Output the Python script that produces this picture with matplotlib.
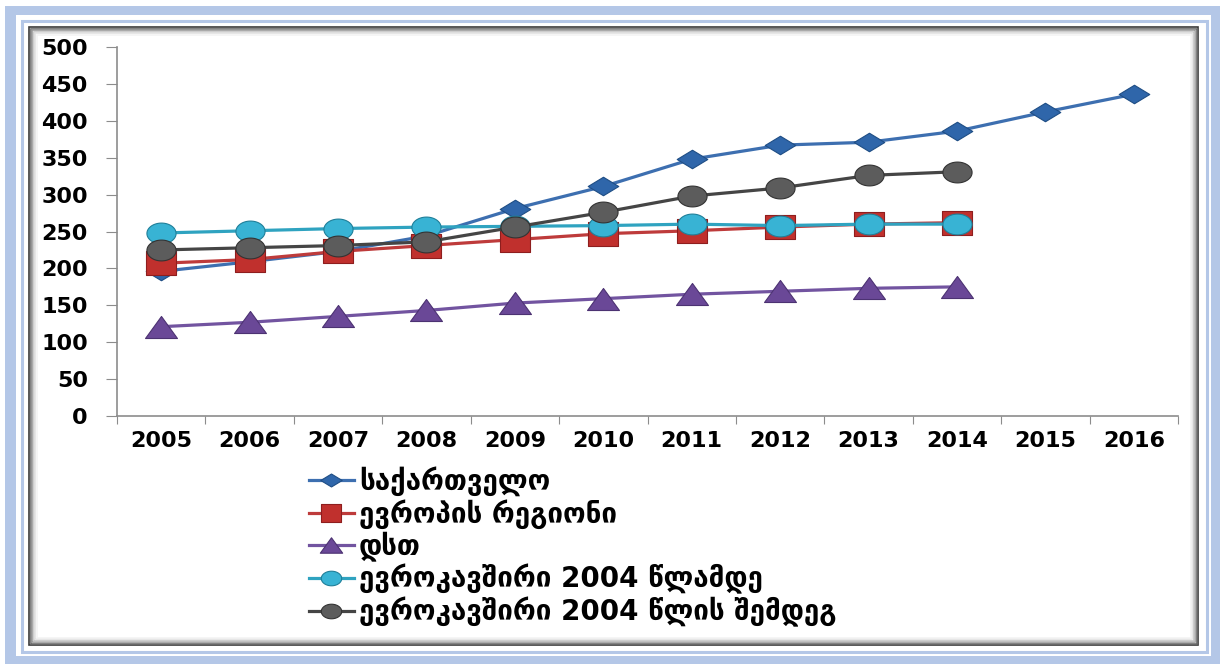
import matplotlib
matplotlib.use("Agg")
from matplotlib import pyplot as plt
from matplotlib.path import Path
from matplotlib.patches import Rectangle
import numpy as np

# Data
years = ['2005', '2006', '2007', '2008', '2009', '2010', '2011', '2012', '2013', '2014', '2015', '2016']
georgia = [196, 209, 223, 244, 281, 311, 348, 367, 371, 386, 412, 436]
europe = [207, 212, 223, 231, 239, 247, 251, 256, 260, 262]
cis = [121, 127, 135, 143, 153, 159, 165, 169, 173, 175]
eu_before = [248, 251, 254, 256, 257, 258, 260, 258, 260, 260]
eu_after = [225, 228, 231, 236, 256, 276, 298, 309, 326, 331]
names = ['საქართველო', 'ევროპის რეგიონი', 'დსთ',
         'ევროკავშირი 2004 წლამდე', 'ევროკავშირი 2004 წლის შემდეგ']

W, H = 1220, 664
fig = plt.figure(figsize=(W / 100, H / 100), dpi=100)
plt.rcParams['font.family'] = ['DejaVu Sans']


def box(x0, y0, x1, y1):
    # pixel box (top-left origin) -> figure fraction
    return (x0 / W, 1 - y1 / H), (x1 - x0) / W, (y1 - y0) / H


# frame decoration
blue = '#B4C7E7'
for (x0, y0, x1, y1), kw in [
        ((5, 6, 1230, 680), dict(facecolor=blue, edgecolor='none')),
        ((16, 15, 1211, 656), dict(facecolor='white', edgecolor='none')),
        ((21.5, 20.5, 1207, 651.5), dict(facecolor='none', edgecolor=blue, linewidth=2.2)),
]:
    xy, w, h = box(x0, y0, x1, y1)
    fig.add_artist(Rectangle(xy, w, h, transform=fig.transFigure, zorder=-10, **kw))

# chart box with soft inner shadow
shades = ['#3a3a3a', '#6a6a6a', '#9a9a9a', '#c4c4c4', '#e2e2e2', '#f3f3f3']
for i, c in enumerate(shades):
    d = i * 1.5
    xy, w, h = box(29 + d, 27 + d, 1198 - d, 645 - d)
    fig.add_artist(Rectangle(xy, w, h, transform=fig.transFigure, facecolor='none',
                             edgecolor=c, linewidth=1.2, zorder=-5))

ax = fig.add_axes([117 / W, 1 - 416 / H, (1178 - 117) / W, (416 - 47) / H])
ax.set_facecolor('none')


def mk(verts):
    verts = list(verts) + [verts[0]]
    codes = [Path.MOVETO] + [Path.LINETO] * (len(verts) - 2) + [Path.CLOSEPOLY]
    return Path(verts, codes)


t = np.linspace(0, 2 * np.pi, 60)
ellipse = Path(np.column_stack([1.4 * np.cos(t), np.sin(t)]))
diamond = mk([(-1.65, 0), (0, 1), (1.65, 0), (0, -1)])
square = mk([(-1.2, -1), (1.2, -1), (1.2, 1), (-1.2, 1)])
triangle = mk([(-1.45, -1), (1.45, -1), (0, 1)])

x = np.arange(len(years))
styles = [
    (georgia, '#3D6FB0', diamond, '#2F66AA', '#1F4E85', 22),
    (europe, '#BE3B3B', square, '#C0302D', '#8E1E1E', 21),
    (cis, '#7254A0', triangle, '#6A4897', '#4C3272', 23),
    (eu_before, '#2FA3C0', ellipse, '#38B3D4', '#1F7F99', 21),
    (eu_after, '#454545', ellipse, '#5C5C5C', '#333333', 21),
]
for (vals, lc, m, fc, ec, ms), name in zip(styles, names):
    ax.plot(x[:len(vals)], vals, color=lc, linewidth=2.3, marker=m, markersize=ms,
            markerfacecolor=fc, markeredgecolor=ec, markeredgewidth=0.8, label=name)

ax.set_xlim(-0.5, len(years) - 0.5)
ax.set_ylim(0, 500)
ax.set_yticks(range(0, 501, 50))
ax.set_xticks(np.arange(-0.5, len(years)), minor=False)
ax.set_xticklabels([])
ax.set_xticks(x, minor=True)
ax.set_xticklabels(years, minor=True)
ax.tick_params(axis='x', which='minor', length=0, pad=11)
ax.tick_params(axis='x', which='major', length=6, color='#8c8c8c')
ax.tick_params(axis='y', length=8, color='#8c8c8c', pad=13)
for lab in ax.get_xticklabels(minor=True) + ax.get_yticklabels():
    lab.set_fontsize(16)
    lab.set_fontweight('bold')
for s in ['top', 'right']:
    ax.spines[s].set_visible(False)
for s in ['left', 'bottom']:
    ax.spines[s].set_color('#8c8c8c')
    ax.spines[s].set_linewidth(1.2)

fig.legend(loc='upper left', bbox_to_anchor=(298 / W, 1 - 455 / H), frameon=False,
           prop={'size': 20, 'weight': 'bold'}, handlelength=1.6, handletextpad=0.2,
           labelspacing=0.1, markerscale=0.7, borderaxespad=0)

fig.savefig('out.png', dpi=100)
